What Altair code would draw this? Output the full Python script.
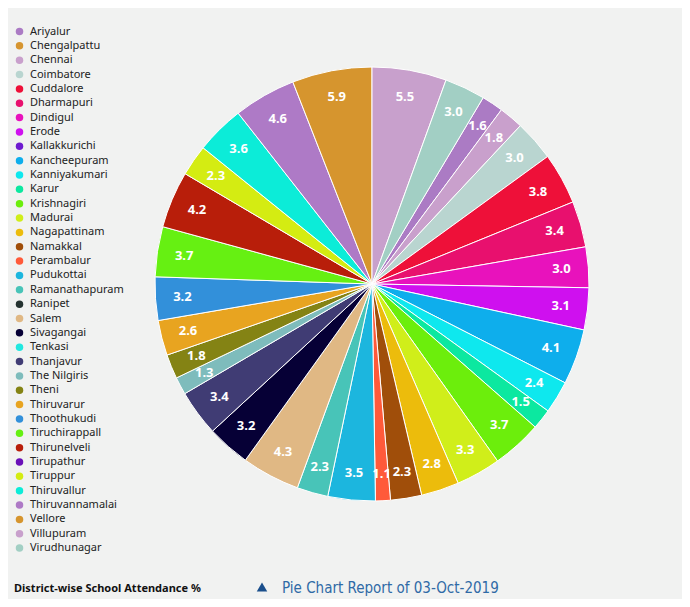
import altair as alt
import pandas as pd

districts = [
    "Ariyalur", "Chengalpattu", "Chennai", "Coimbatore", "Cuddalore", "Dharmapuri",
    "Dindigul", "Erode", "Kallakkurichi", "Kancheepuram", "Kanniyakumari", "Karur",
    "Krishnagiri", "Madurai", "Nagapattinam", "Namakkal", "Perambalur", "Pudukottai",
    "Ramanathapuram", "Ranipet", "Salem", "Sivagangai", "Tenkasi", "Thanjavur",
    "The Nilgiris", "Theni", "Thiruvarur", "Thoothukudi", "Tiruchirappall", "Thirunelveli",
    "Tirupathur", "Tiruppur", "Thiruvallur", "Thiruvannamalai", "Vellore", "Villupuram",
    "Virudhunagar",
]
values = [
    1.6, 0.0, 1.8, 3.0, 3.8, 3.4,
    3.0, 3.1, 0.0, 4.1, 2.4, 1.5,
    3.7, 3.3, 2.8, 2.3, 1.1, 3.5,
    2.3, 0.0, 4.3, 3.2, 0.0, 3.4,
    1.3, 1.8, 2.6, 3.2, 3.7, 4.2,
    0.0, 2.3, 3.6, 4.6, 5.9, 5.5,
    3.0,
]
colors = [
    "#ab7bc4", "#d69530", "#c9a0cc", "#b9d5d0", "#ee1039", "#e8106e",
    "#e812bc", "#cf10ef", "#6e1ad0", "#0eaeec", "#0ee8ee", "#0ce8a0",
    "#6cee0c", "#d0ee1a", "#ecbc0c", "#a04e0a", "#ff5a3a", "#1cb6de",
    "#48c4b8", "#243230", "#e0b884", "#060036", "#22e8e0", "#403c74",
    "#7ebcbc", "#848314", "#e8a420", "#3290da", "#66f012", "#b81e0a",
    "#6a10b8", "#d4ec12", "#0cecd8", "#ae7ac6", "#d6952e", "#c8a0cc",
    "#a2cfc4",
]
clockwise = ["Villupuram", "Virudhunagar"] + districts[:-2]

title_left = "District-wise School Attendance %"
title_right = "Pie Chart Report of 03-Oct-2019"

df = pd.DataFrame({"district": districts, "value": values})
df["ord"] = [clockwise.index(d) for d in districts]

base = alt.Chart(df).transform_filter("datum.value > 0")

arcs = base.mark_arc(outerRadius=217, stroke="white", strokeWidth=1).encode(
    theta=alt.Theta("value:Q", stack=True),
    order=alt.Order("ord:Q", sort="ascending"),
    color=alt.Color(
        "district:N",
        scale=alt.Scale(domain=districts, range=colors),
        legend=alt.Legend(
            title=None,
            orient="none",
            legendX=-144,
            legendY=18,
            direction="vertical",
            labelFont="Noto Sans",
            labelFontSize=11,
            labelColor="#222222",
            symbolType="circle",
            symbolSize=56,
            symbolStrokeWidth=0,
            rowPadding=2.35,
            labelOffset=5,
            padding=0,
            symbolLimit=50,
        ),
    ),
)

labels = base.mark_text(
    radius=190, font="Noto Sans", fontSize=13, fontWeight="bold", color="white",
    align="center", baseline="middle",
).encode(
    theta=alt.Theta("value:Q", stack=True),
    order=alt.Order("ord:Q", sort="ascending"),
    detail="district:N",
    text=alt.Text("value:Q", format=".1f"),
)

tdf = pd.DataFrame({"a": [title_left], "b": [title_right]})
t1 = alt.Chart(tdf).mark_text(
    font="Noto Sans", fontSize=11, fontWeight="bold", color="#111111", align="left", baseline="alphabetic"
).encode(x=alt.value(-144), y=alt.value(584), text="a:N")
tri = alt.Chart(tdf).mark_point(shape="triangle-up", filled=True, size=110, color="#1b4f8c", opacity=1).encode(
    x=alt.value(104), y=alt.value(579)
)
t2 = alt.Chart(tdf).mark_text(
    font="DejaVu Sans Condensed, Roboto", fontSize=15, color="#2f6aa6", align="left", baseline="alphabetic"
).encode(x=alt.value(124), y=alt.value(585), text="b:N")

chart = alt.layer(arcs, labels, t1, tri, t2).properties(
    width=428,
    height=552,
    autosize=alt.AutoSizeParams(type="none"),
    padding={"left": 150, "top": 0, "right": 96, "bottom": 39},
    background="#f1f2f1",
).configure_view(stroke=None)

chart.save("out.html", embed_options={"renderer": "svg", "actions": False})
